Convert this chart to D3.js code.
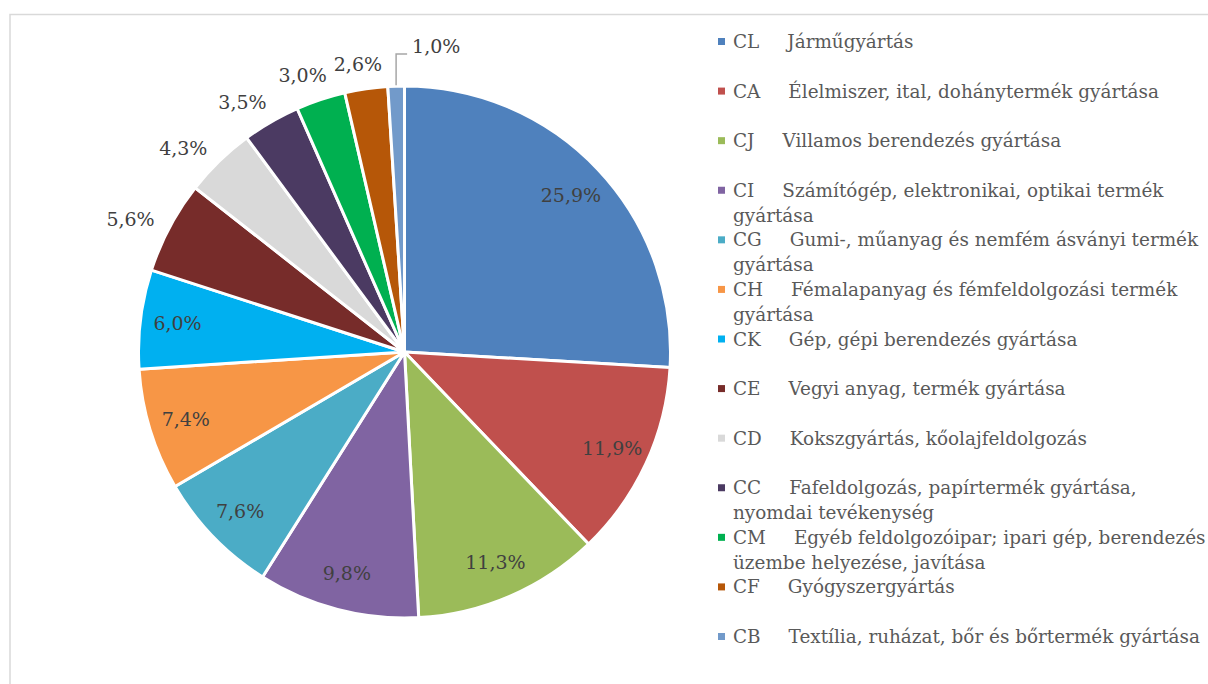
<!DOCTYPE html>
<html>
<head>
<meta charset="utf-8">
<script src="https://cdn.jsdelivr.net/npm/d3@7"></script>
<style>
  html, body { margin: 0; padding: 0; background: #fff; }
  svg { display: block; }
</style>
</head>
<body>
<svg id="chart" width="1208" height="684"></svg>
<script>
const codes = ["CL","CA","CJ","CI","CG","CH","CK","CE","CD","CC","CM","CF","CB"];
const descriptions = [
  ["Járműgyártás"],
  ["Élelmiszer, ital, dohánytermék gyártása"],
  ["Villamos berendezés gyártása"],
  ["Számítógép, elektronikai, optikai termék", "gyártása"],
  ["Gumi-, műanyag és nemfém ásványi termék", "gyártása"],
  ["Fémalapanyag és fémfeldolgozási termék", "gyártása"],
  ["Gép, gépi berendezés gyártása"],
  ["Vegyi anyag, termék gyártása"],
  ["Kokszgyártás, kőolajfeldolgozás"],
  ["Fafeldolgozás, papírtermék gyártása,", "nyomdai tevékenység"],
  ["Egyéb feldolgozóipar; ipari gép, berendezés", "üzembe helyezése, javítása"],
  ["Gyógyszergyártás"],
  ["Textília, ruházat, bőr és bőrtermék gyártása"]
];
const values = [25.9, 11.9, 11.3, 9.8, 7.6, 7.4, 6.0, 5.6, 4.3, 3.5, 3.0, 2.6, 1.0];
const valueLabels = ["25,9%","11,9%","11,3%","9,8%","7,6%","7,4%","6,0%","5,6%","4,3%","3,5%","3,0%","2,6%","1,0%"];
const colors = ["#4f81bd","#c0504d","#9bbb59","#8064a2","#4bacc6","#f79646","#00b0f0","#772c2a","#d9d9d9","#4b3a62","#00b050","#b65708","#729aca"];
const outsideLabel = [false,false,false,false,false,false,false,true,true,true,true,true,true];

const svg = d3.select("#chart");
const cx = 404.5, cy = 352, R = 266;
const FONT = "'Palatino Linotype','Book Antiqua',Palatino,'DejaVu Serif',serif";

// frame
svg.append("rect")
  .attr("x", 10).attr("y", 14.5).attr("width", 1300).attr("height", 800)
  .attr("fill", "none").attr("stroke", "#d9d9d9").attr("stroke-width", 1.5);

const color = d3.scaleOrdinal().domain(codes).range(colors);
const pie = d3.pie().sort(null).value(d => d.value);
const data = codes.map((c, i) => ({code: c, value: values[i], label: valueLabels[i], outside: outsideLabel[i]}));
const arcs = pie(data);
const arc = d3.arc().innerRadius(0).outerRadius(R);

const g = svg.append("g").attr("transform", `translate(${cx},${cy})`);
g.selectAll("path.slice").data(arcs).enter().append("path")
  .attr("class", "slice")
  .attr("d", arc)
  .attr("fill", d => color(d.data.code))
  .attr("stroke", "#fff")
  .attr("stroke-width", 3)
  .attr("stroke-linejoin", "round");

const inArc = d3.arc().innerRadius(R * 0.86).outerRadius(R * 0.86);
const gap = 17;

function addLabel(x, y, txt, anchor) {
  return g.append("text")
    .attr("x", x).attr("y", y)
    .attr("dy", "0.35em")
    .attr("text-anchor", anchor)
    .attr("font-family", FONT).attr("font-size", 19).attr("fill", "#404040")
    .text(txt);
}

arcs.forEach((d, i) => {
  const mid = (d.startAngle + d.endAngle) / 2;
  const ux = Math.sin(mid), uy = -Math.cos(mid);
  const last = i === arcs.length - 1;
  if (last) {
    const x0 = (R + 1) * ux, y0 = (R + 1) * uy;
    const ly = -R - 32;
    g.append("path")
      .attr("d", `M${x0},${y0} L${x0},${ly} L${x0 + 11},${ly}`)
      .attr("fill", "none").attr("stroke", "#a6a6a6").attr("stroke-width", 1.5);
    addLabel(x0 + 16, ly - 8, d.data.label, "start");
    return;
  }
  if (d.data.outside) {
    const t = addLabel(0, 0, d.data.label, "middle");
    const hw = t.node().getBBox().width / 2, hh = 8;
    const ox = hw * Math.min(1, Math.abs(ux) / 0.6);
    const oy = hh * Math.max(0, Math.min(1, (Math.abs(uy) - 0.7) / 0.25));
    const D = R + gap;
    t.attr("x", D * ux + Math.sign(ux) * ox).attr("y", D * uy + Math.sign(uy) * oy);
  } else {
    const p = inArc.centroid(d);
    addLabel(p[0], p[1], d.data.label, "middle");
  }
});

// legend
const ly = d3.scaleLinear().domain([0, codes.length - 1]).range([42, 637]);
const leg = svg.append("g");
codes.forEach((c, i) => {
  const y = ly(i);
  leg.append("rect")
    .attr("x", 718).attr("y", y - 4).attr("width", 7).attr("height", 7)
    .attr("fill", color(c));
  const t = leg.append("text")
    .attr("font-family", FONT).attr("font-size", 18.4).attr("fill", "#595959");
  t.append("tspan").attr("x", 733).attr("y", y + 6).text(c);
  t.append("tspan").attr("dx", 28).text(descriptions[i][0]);
  descriptions[i].slice(1).forEach((line, k) => {
    t.append("tspan").attr("x", 733).attr("y", y + 6 + 25 * (k + 1)).text(line);
  });
});
</script>
</body>
</html>
